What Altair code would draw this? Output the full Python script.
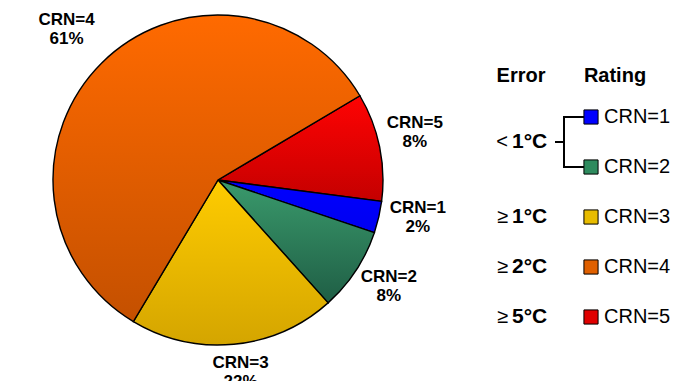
import math
import altair as alt
import pandas as pd

# ---- data ----
slice_cats = ["CRN=5", "CRN=1", "CRN=2", "CRN=3", "CRN=4"]   # clockwise from the red slice
slice_shares = [10.6, 3.1, 8.2, 20.2, 57.9]                   # as drawn (angular share, %)
slice_pct_labels = ["8%", "2%", "8%", "22%", "61%"]

legend_cats = ["CRN=1", "CRN=2", "CRN=3", "CRN=4", "CRN=5"]
legend_rows = [1, 2, 3, 4, 5]

error_symbols = ["<", "\u2265", "\u2265", "\u2265"]
error_values = ["1\u00b0C", "1\u00b0C", "2\u00b0C", "5\u00b0C"]
error_rows = [1.5, 3, 4, 5]

# ---- styles / layout ----
FONT = "Liberation Sans"
CX, CY, R = 218, 180, 165
START = math.radians(59.3)
LINE_H = 19
label_radius = {"CRN=5": 203, "CRN=1": 204, "CRN=2": 201, "CRN=3": 193, "CRN=4": 213}
label_nudge = {"CRN=5": (-2, -16), "CRN=1": (1, -18), "CRN=2": (3, -14), "CRN=3": (4, -9), "CRN=4": (-1, -9)}
grad_colors = {
    "CRN=5": ("#FF0303", "#C40000"),
    "CRN=1": ("#0000FF", "#0000F0"),
    "CRN=2": ("#3A9A6C", "#1F5E45"),
    "CRN=3": ("#FFCC00", "#D4A500"),
    "CRN=4": ("#FF6A00", "#C45000"),
}
legend_colors = ["#0000FF", "#2E8B5E", "#E8BC00", "#E06000", "#E00000"]

df = pd.DataFrame({
    "cat": slice_cats,
    "share": slice_shares,
    "order": list(range(len(slice_cats))),
    "label": [f"{c}\n{p}" for c, p in zip(slice_cats, slice_pct_labels)],
})

theta_scale = alt.Scale(domain=[0, 100], range=[START, START + 2 * math.pi])

base = (
    alt.Chart(df)
    .transform_window(end="sum(share)", sort=[alt.SortField("order")], frame=[None, 0])
    .transform_calculate(start="datum.end - datum.share", mid="datum.end - datum.share / 2")
)

layers = []
for c in slice_cats:
    top, bot = grad_colors[c]
    grad = alt.LinearGradient(
        gradient="linear",
        stops=[alt.GradientStop(color=top, offset=0), alt.GradientStop(color=bot, offset=1)],
        x1=0, x2=0, y1=0, y2=1,
    )
    arc = (
        base.transform_filter(alt.datum.cat == c)
        .mark_arc(fill=grad, stroke="black", strokeWidth=1.4, radius=R)
        .encode(
            theta=alt.Theta("start:Q", scale=theta_scale, stack=False),
            theta2="end:Q",
            x=alt.value(CX),
            y=alt.value(CY),
        )
    )
    ndx, ndy = label_nudge[c]
    txt = (
        base.transform_filter(alt.datum.cat == c)
        .mark_text(radius=label_radius[c], dx=ndx, dy=ndy, font=FONT, fontSize=17, fontWeight="bold",
                   lineBreak="\n", lineHeight=LINE_H, align="center", baseline="middle", color="black")
        .encode(
            theta=alt.Theta("mid:Q", scale=theta_scale, stack=False),
            text="label:N",
            x=alt.value(CX),
            y=alt.value(CY),
        )
    )
    layers += [arc, txt]

# ---- legend-like table ----
yscale = alt.Scale(domain=[1, 5], range=[117, 317])
leg_df = pd.DataFrame({"cat": legend_cats, "row": legend_rows})
err_df = pd.DataFrame({"sym": error_symbols, "val": error_values, "row": error_rows})
br_df = pd.DataFrame({"lo": [1], "hi": [2], "mid": [1.5]})

squares = alt.Chart(leg_df).mark_square(size=200, filled=True, stroke="black", strokeWidth=1, opacity=1).encode(
    x=alt.value(591),
    y=alt.Y("row:Q", scale=yscale, axis=None),
    color=alt.Color("cat:N", scale=alt.Scale(domain=legend_cats, range=legend_colors), legend=None),
)
leg_text = alt.Chart(leg_df).mark_text(align="left", baseline="middle", font=FONT, fontSize=20, color="black").encode(
    x=alt.value(604),
    y=alt.Y("row:Q", scale=yscale, axis=None),
    text="cat:N",
)
err_sym = alt.Chart(err_df).mark_text(align="right", baseline="middle", font=FONT, fontSize=20, color="black").encode(
    x=alt.value(508),
    y=alt.Y("row:Q", scale=yscale, axis=None),
    text="sym:N",
)
err_val = alt.Chart(err_df).mark_text(align="left", baseline="middle", font=FONT, fontSize=21,
                                      fontWeight="bold", color="black").encode(
    x=alt.value(512),
    y=alt.Y("row:Q", scale=yscale, axis=None),
    text="val:N",
)
br_vert = alt.Chart(br_df).mark_rule(stroke="black", strokeWidth=2).encode(
    x=alt.value(564), y=alt.Y("lo:Q", scale=yscale, axis=None), y2="hi:Q"
)
br_top = alt.Chart(br_df).mark_rule(stroke="black", strokeWidth=2).encode(
    x=alt.value(563), x2=alt.value(584), y=alt.Y("lo:Q", scale=yscale, axis=None)
)
br_bot = alt.Chart(br_df).mark_rule(stroke="black", strokeWidth=2).encode(
    x=alt.value(563), x2=alt.value(584), y=alt.Y("hi:Q", scale=yscale, axis=None)
)
br_tick = alt.Chart(br_df).mark_rule(stroke="black", strokeWidth=2).encode(
    x=alt.value(555), x2=alt.value(564), y=alt.Y("mid:Q", scale=yscale, axis=None)
)
hdr_err = alt.Chart(br_df).mark_text(text="Error", font=FONT, fontSize=20, fontWeight="bold",
                                     align="center", baseline="middle", color="black").encode(
    x=alt.value(521), y=alt.value(76)
)
hdr_rat = alt.Chart(br_df).mark_text(text="Rating", font=FONT, fontSize=20, fontWeight="bold",
                                     align="center", baseline="middle", color="black").encode(
    x=alt.value(615), y=alt.value(76)
)

chart = (
    alt.layer(*layers, br_vert, br_top, br_bot, br_tick, squares, leg_text, err_sym, err_val, hdr_err, hdr_rat)
    .resolve_scale(color="independent")
    .properties(width=678, height=381, padding=0, autosize=alt.AutoSizeParams(type="none"), background="white")
    .configure_view(stroke=None)
)

chart.save("out.html", embed_options={"renderer": "svg", "actions": False})
